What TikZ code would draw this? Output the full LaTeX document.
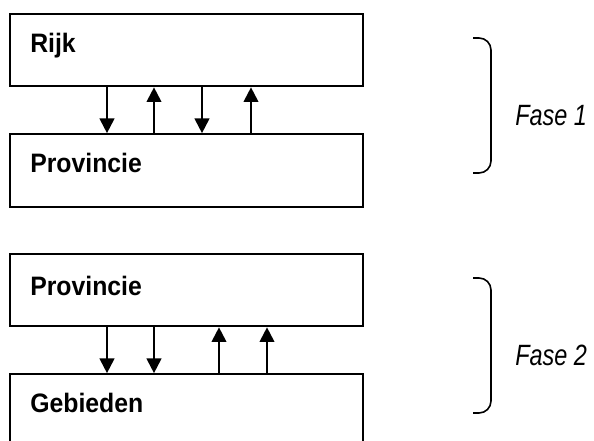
\documentclass[tikz,border=0pt]{standalone}
\usepackage{fontspec}
\usepackage{tikz}
\usetikzlibrary{arrows.meta}
\setmainfont{Liberation Sans}
\newfontfamily\lagenfont[FakeStretch=0.93]{Liberation Sans}
\newfontfamily\fasefont[FakeStretch=0.8]{Liberation Sans}

\begin{document}
\begin{tikzpicture}[
    x=0.75pt, y=-0.75pt,
    laag/.style={draw, line width=1.5pt, minimum width=265pt, minimum height=54.5pt, inner sep=0pt},
    naam/.style={anchor=base west, inner sep=0pt, font=\lagenfont\bfseries\fontsize{20}{24}\selectfont},
    pijl/.style={-{Triangle[length=11pt, width=11pt]}, line width=1.5pt},
    haak/.style={line width=1.2pt, rounded corners=9pt},
    fase/.style={anchor=base west, inner sep=0pt, font=\fasefont\itshape\fontsize{22}{26}\selectfont}
]
\clip (0,0) rectangle (594,441);

% fase 1: rijk en provincie
\node[laag] (rijk) at (186.5,50) {};
\node[laag] (prov1) at (186.5,170.5) {};
\node[naam] (rijktekst) at (30,53) {Rijk};
\node[naam] (prov1tekst) at (30,173) {Provincie};
\foreach \x in {107,202}
    \draw[pijl] (rijk.south -| \x,0) -- (prov1.north -| \x,0);
\foreach \x in {154,251}
    \draw[pijl] (prov1.north -| \x,0) -- (rijk.south -| \x,0);

% fase 2: provincie en gebieden
\node[laag] (prov2) at (186.5,290) {};
\node[laag] (gebied) at (186.5,410.5) {};
\node[naam] (prov2tekst) at (30,296) {Provincie};
\node[naam] (gebiedtekst) at (30,413) {Gebieden};
\foreach \x in {107,154}
    \draw[pijl] (prov2.south -| \x,0) -- (gebied.north -| \x,0);
\foreach \x in {219,267}
    \draw[pijl] (gebied.north -| \x,0) -- (prov2.south -| \x,0);

% haken met fase
\draw[haak] (473,38) -- (491,38) -- (491,173) -- (473,173);
\node[fase] (fase1) at (515,126) {Fase 1};
\draw[haak] (473,278) -- (491,278) -- (491,413) -- (473,413);
\node[fase] (fase2) at (515,366) {Fase 2};
\end{tikzpicture}
\end{document}
